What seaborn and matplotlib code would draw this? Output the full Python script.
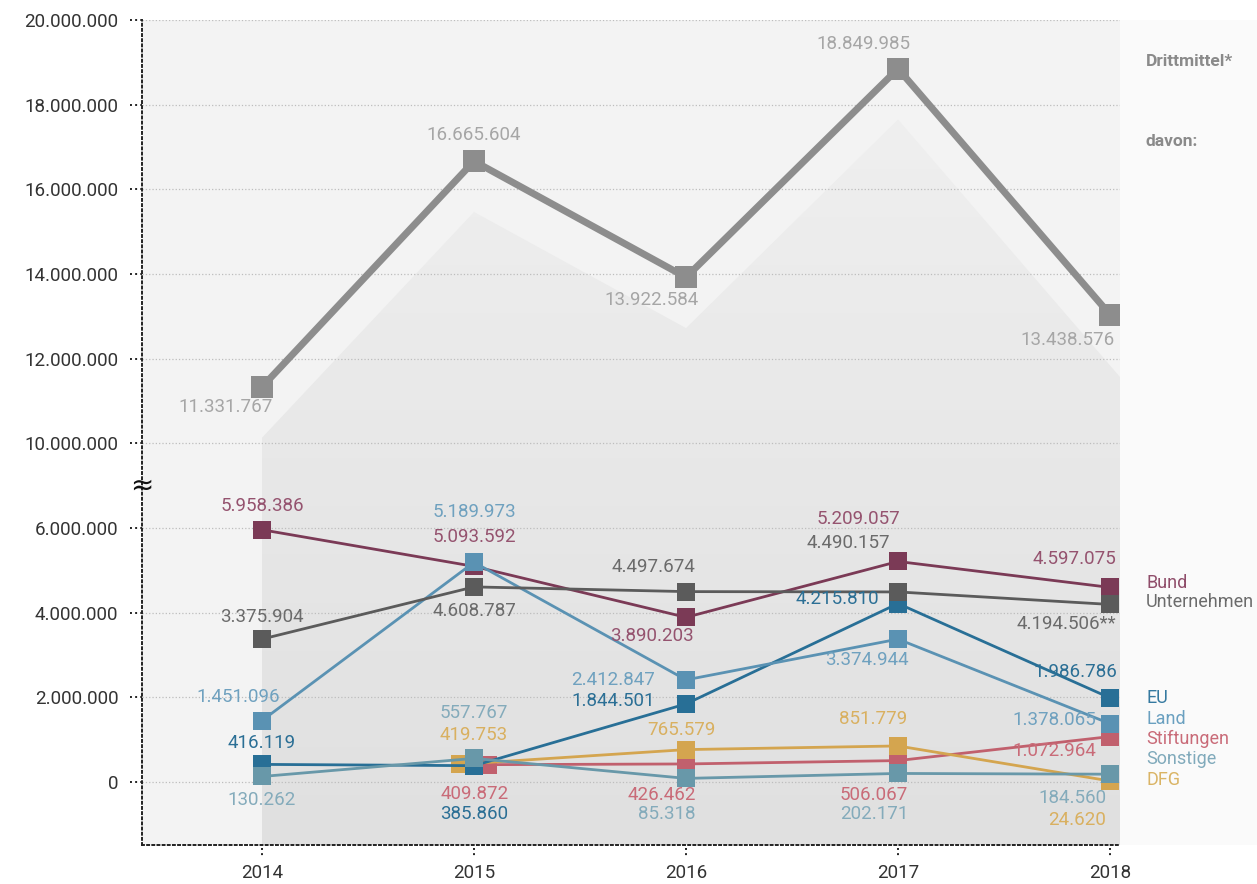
import matplotlib
matplotlib.use("Agg")
import matplotlib.pyplot as plt
import matplotlib.transforms as mtransforms
from matplotlib.colors import LinearSegmentedColormap
from matplotlib.patches import Polygon, Rectangle
from matplotlib.lines import Line2D
import numpy as np
import seaborn as sns

# --- data ---
years = [2014, 2015, 2016, 2017, 2018]

drittmittel = [11331767, 16665604, 13922584, 18849985, 13438576]
# where the total's markers sit in the picture (2018 is drawn lower than its label)
drittmittel_drawn = [11331767, 16665604, 13922584, 18849985, 13040000]
bund = [5958386, 5093592, 3890203, 5209057, 4597075]
unternehmen = [3375904, 4608787, 4497674, 4490157, 4194506]
eu = [416119, 385860, 1844501, 4215810, 1986786]
land = [1451096, 5189973, 2412847, 3374944, 1378065]
stiftungen = [None, 409872, 426462, 506067, 1072964]
sonstige = [130262, 557767, 85318, 202171, 184560]
dfg = [None, 419753, 765579, 851779, 24620]
unternehmen_notes = ["", "", "", "", "**"]

y_ticks = [0, 2000000, 4000000, 6000000, 10000000, 12000000,
           14000000, 16000000, 18000000, 20000000]

# axis break: values above 8 Mio are drawn 2 Mio lower
GAP = 2000000
BREAK = 8000000


def disp(v):
    return v - GAP if v >= BREAK else v


def fmt(v):
    return f"{v:,}".replace(",", ".")


plt.rcParams['figure.dpi'] = 100
sns.set_style("white")
plt.rcParams['font.family'] = ['Roboto', 'DejaVu Sans']

fig = plt.figure(figsize=(12.57, 8.84), dpi=100)
ax = fig.add_axes([142 / 1257, 1 - 845 / 884, 978 / 1257, 825 / 884])
ax.set_facecolor('#f3f3f3')

xmin, xmax = 2013.434, 2018.047
ymin, ymax = -1488000, 18000000
LBL = 13.5

# right side panel
fig.patches.append(Rectangle((1120 / 1257, 1 - 845 / 884), 137 / 1257, 825 / 884,
                             transform=fig.transFigure, facecolor='#fafafa',
                             edgecolor='none', zorder=0))

# decorative "mountain" behind the total line
shade = [disp(v) - 1200000 for v in drittmittel_drawn]
ext = shade[-1] + (shade[-1] - shade[-2]) * (xmax - years[-1])
verts = [(years[0], ymin)] + list(zip(years, shade)) + [(xmax, ext), (xmax, ymin)]
poly = Polygon(verts, closed=True, facecolor='none', edgecolor='none')
ax.add_patch(poly)
grad = np.linspace(0, 1, 256).reshape(-1, 1)
cmap = LinearSegmentedColormap.from_list('g', ['#efefef', '#e0e0e0'])
img = ax.imshow(grad, extent=(years[0], xmax, ymin, max(shade)), cmap=cmap,
                aspect='auto', zorder=0.2, interpolation='bilinear')
img.set_clip_path(poly)

# series: name, values, line colour, text colour, x shift at 2015 (px), label offsets (px)
series = [
    ('Stiftungen', stiftungen, '#c1606d', '#c96b78', 14,
     [None, (-13, -29), (-24, -31), (-24, -34), (-56, -14)]),
    ('DFG', dfg, '#d4a54f', '#d9b060', -14,
     [None, (14, 29), (-5, 20), (-25, 27), (-33, -39)]),
    ('EU', eu, '#286f96', '#2b6f95', 0,
     [(0, 21), (0, -48), (-73, 3), (-61, 5), (-35, 26)]),
    ('Bund', bund, '#7b3a56', '#95536f', 0,
     [(0, 24), (0, 29), (-34, -19), (-40, 42), (-36, 28)]),
    ('Land', land, '#5a92b3', '#6fa1bf', 0,
     [(-24, 24), (0, 50), (-73, 0), (-31, -21), (-56, 4)]),
    ('Unternehmen', unternehmen, '#5b5b5b', '#6b6b6b', 0,
     [(0, 22), (0, -24), (-33, 25), (-50, 49), (-44, -20)]),
    ('Sonstige', sonstige, '#6898a9', '#84abbb', 0,
     [(0, -24), (0, 45), (-19, -36), (-24, -41), (-38, -24)]),
]

px_year = 212.0
for z, (name, vals, lc, tc, shift, offs) in enumerate(series):
    xs, ys = [], []
    for i, (yr, v) in enumerate(zip(years, vals)):
        if v is None:
            continue
        xs.append(yr + (shift / px_year if yr == 2015 else 0))
        ys.append(disp(v))
    sns.lineplot(x=xs, y=ys, ax=ax, color=lc, linewidth=2, marker='s',
                 markersize=13, markeredgewidth=0, errorbar=None, sort=False,
                 zorder=3 + z)
    j = 0
    for i, v in enumerate(vals):
        if v is None:
            continue
        txt = fmt(v)
        if name == 'Unternehmen':
            txt += unternehmen_notes[i]
        dx, dy = offs[i]
        ax.annotate(txt, (xs[j], ys[j]), xytext=(dx * 0.72, dy * 0.72),
                    textcoords='offset points', ha='center', va='center',
                    fontsize=LBL, color=tc, zorder=20)
        j += 1

# total
d_vals = [disp(v) for v in drittmittel_drawn]
sns.lineplot(x=years, y=d_vals, ax=ax, color='#8d8d8d', linewidth=5, marker='s',
             markersize=16, markeredgewidth=0, errorbar=None, zorder=15)
d_offs = [(-36, -20), (0, 26), (-34, -23), (-35, 25), (-42, -25)]
for x, v, yv, (dx, dy) in zip(years, drittmittel, d_vals, d_offs):
    ax.annotate(fmt(v), (x, yv), xytext=(dx * 0.72, dy * 0.72),
                textcoords='offset points', ha='center', va='center',
                fontsize=LBL, color='#a6a6a6', zorder=20)

# axes, ticks, grid
ax.set_xlim(xmin, xmax)
ax.set_ylim(ymin, ymax)
ax.set_xlabel('')
ax.set_ylabel('')
ax.set_xticks(years)
ax.set_xticklabels([str(y) for y in years], fontsize=LBL, color='#333333')
ax.set_yticks([disp(t) for t in y_ticks if disp(t) <= ymax])
ax.set_yticklabels([fmt(t) for t in y_ticks if disp(t) <= ymax], fontsize=LBL,
                   color='#333333')
ax.tick_params(axis='y', length=0, pad=17)
ax.tick_params(axis='x', length=0, pad=14)
ax.yaxis.grid(True, linestyle=':', color='#bdbdbd', linewidth=0.9)
ax.xaxis.grid(False)
ax.set_axisbelow(True)
for s in ['top', 'right']:
    ax.spines[s].set_visible(False)
for s in ['left', 'bottom']:
    ax.spines[s].set_linestyle(':')
    ax.spines[s].set_color('#222222')
    ax.spines[s].set_linewidth(1.4)

# dotted tick marks drawn by hand
ytr = mtransforms.blended_transform_factory(ax.transAxes, ax.transData)
for t in ax.get_yticks():
    ax.add_line(Line2D([-12 / 978, 0], [t, t], transform=ytr, color='#222222',
                       linestyle=':', linewidth=1.4, clip_on=False))
xtr = mtransforms.blended_transform_factory(ax.transData, ax.transAxes)
for yr in years:
    ax.add_line(Line2D([yr, yr], [-3 / 825, -11 / 825], transform=xtr, color='#222222',
                       linestyle=':', linewidth=1.4, clip_on=False))

# axis break sign
ax.text(0, 7000000, '≈', transform=ytr, ha='center', va='center', fontsize=20,
        color='#111111', family=['DejaVu Sans'], clip_on=False)


# labels on the right
def fx(px):
    return px / 1257


def fy(py):
    return 1 - py / 884


fig.text(fx(1146), fy(62), 'Drittmittel*', fontsize=12.5, fontweight='bold',
         color='#8a8a8a', va='center')
fig.text(fx(1146), fy(142), 'davon:', fontsize=12.5, fontweight='bold',
         color='#8a8a8a', va='center')
right_labels = [('Bund', 583, '#8f4d6a'), ('Unternehmen', 602, '#6b6b6b'),
                ('EU', 698, '#3579a0'), ('Land', 719, '#6aa0c0'),
                ('Stiftungen', 739, '#c96b78'), ('Sonstige', 759, '#80aabb'),
                ('DFG', 780, '#dab465')]
for lab, py, c in right_labels:
    fig.text(fx(1146), fy(py), lab, fontsize=13, color=c, va='center')

fig.savefig('out.png', dpi=100)
